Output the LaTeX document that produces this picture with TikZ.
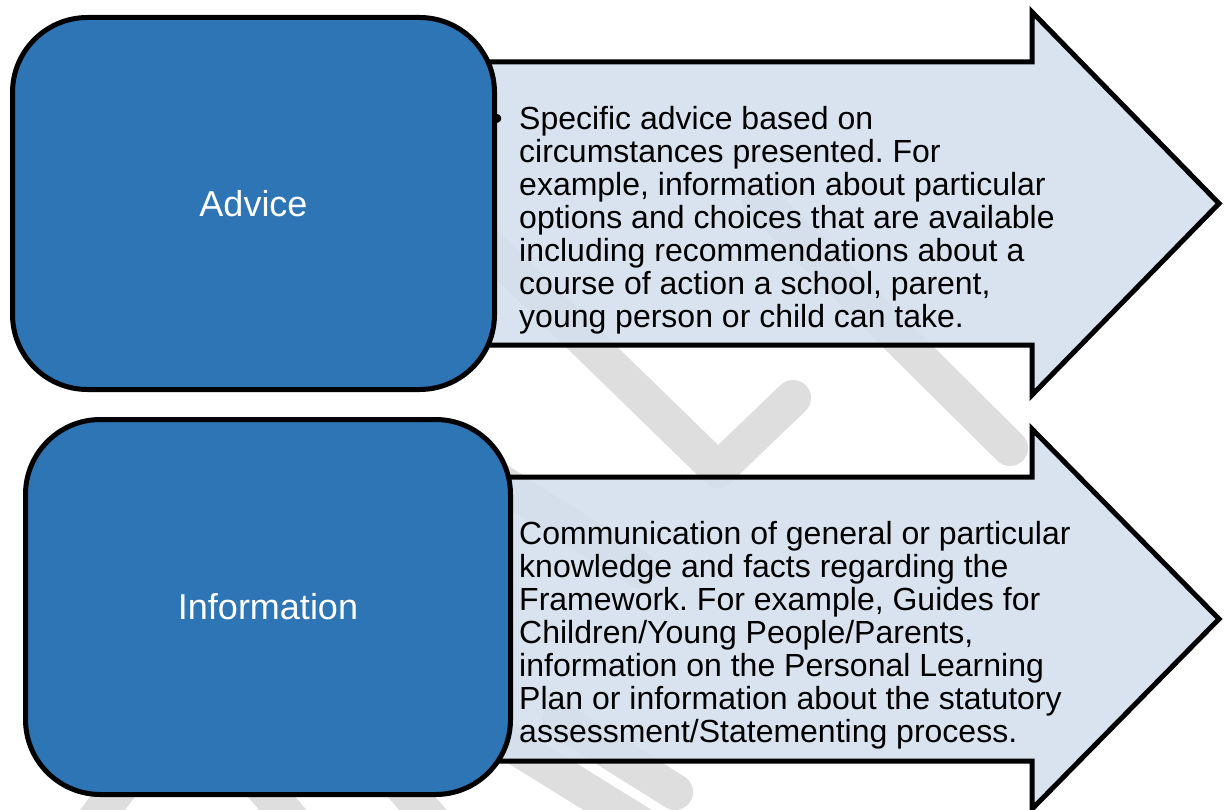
\documentclass[tikz,border=0pt]{standalone}
\usepackage{fontspec}
\setmainfont{Liberation Sans}
\usepackage{tikz}
\usetikzlibrary{positioning,calc}
\definecolor{boxblue}{HTML}{2E75B6}
\definecolor{arrowfill}{HTML}{D5E0EE}
\definecolor{wmgray}{HTML}{DEDEDE}
\frenchspacing
\tikzset{
topic/.style={rectangle,draw=black,line width=5pt,fill=boxblue,rounded corners=75pt,
  text=white,font=\fontsize{36}{40}\selectfont,inner sep=0pt},
arw/.style={draw=black,line width=5pt,fill=arrowfill,fill opacity=0.9,line join=miter},
txt/.style={anchor=north west,align=left,inner sep=0pt,font=\fontsize{32}{33}\selectfont},
wm/.style={draw=wmgray,line width=36pt,line cap=round,line join=round},
}

\begin{document}
\begin{tikzpicture}[x=1pt,y=-1pt]
\useasboundingbox (0,0) rectangle (1225,810);

% faint watermark behind everything
\begin{scope}
\clip (0,0) rectangle (1225,810);
\draw[wm] (420,180) -- (718,470) -- (793,398);
\draw[wm] (760,200) -- (1010,448);
\draw[wm] (440,444) -- (640,570);
\draw[wm] (440,700) -- (650,830);
\draw[wm] (560,720) -- (675,792);
\draw[wm] (80,840) -- (140,760);
\draw[wm] (240,760) -- (300,830);
\draw[wm] (380,760) -- (440,830);
\end{scope}

% the two arrows
\draw[arw] (480,62) -- (1032,62) -- (1032,12) -- (1219,203.5) -- (1032,395) -- (1032,345) -- (480,345) -- cycle;
\draw[arw] (480,477) -- (1032,477) -- (1032,429) -- (1219,619) -- (1032,809) -- (1032,761) -- (480,761) -- cycle;

% the two topics
\node[topic,minimum width=482pt,minimum height=372pt] (advice) at (253.5,203.5) {Advice};
\node[topic,minimum width=485pt,minimum height=375pt] (info) at (268,607) {Information};

% descriptions
\node[txt] (advicetxt) at (519,106) {Specific advice based on\\
circumstances presented. For\\
example, information about particular\\
options and choices that are available\\
including recommendations about a\\
course of action a school, parent,\\
young person or child can take.};
\node[txt,anchor=base] (bullet) at (497,130) {\textbullet};
\node[txt] (infotxt) at (519,521) {Communication of general or particular\\
knowledge and facts regarding the\\
Framework. For example, Guides for\\
Children/Young People/Parents,\\
information on the Personal Learning\\
Plan or information about the statutory\\
assessment/Statementing process.};
\end{tikzpicture}
\end{document}
